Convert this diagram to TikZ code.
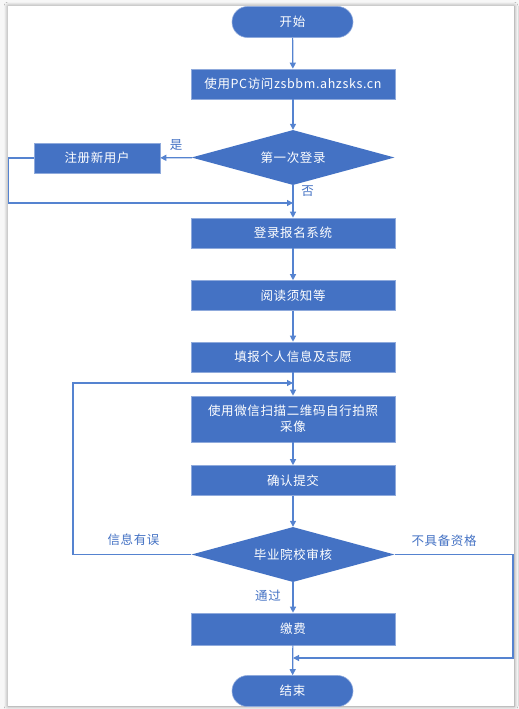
\documentclass[tikz,border=0pt]{standalone}
\usepackage{fontspec}
\newfontfamily\cjk[LetterSpace=5]{Noto Sans CJK SC}
\usetikzlibrary{shapes.geometric,arrows.meta,shadows.blur}
\definecolor{ob}{HTML}{4472C4}
\definecolor{obl}{HTML}{5583D0}
\definecolor{obe}{HTML}{8FAADC}
\begin{document}
\begin{tikzpicture}[x=1pt,y=-1pt,
  every node/.style={font=\cjk\fontsize{12.5}{16}\selectfont},
  proc/.style={draw=obe, line width=0.6pt, fill=ob, text=white, minimum width=204pt, minimum height=30pt, inner sep=0pt, align=center},
  term/.style={draw=obe, line width=0.6pt, fill=ob, text=white, minimum width=121pt, minimum height=31pt, rounded corners=15.5pt, inner sep=0pt},
  dec/.style={diamond, fill=ob, text=white, minimum width=203pt, minimum height=55pt, aspect=3.7, inner sep=0pt},
  lab/.style={text=ob},
  arr/.style={draw=obl, line width=1.2pt, -{Triangle[width=6pt,length=6pt]}}
]
\useasboundingbox (0,0) rectangle (519,709);
\fill[gray!6] (0,0) rectangle (519,709);
\fill[white, blur shadow={shadow blur steps=8, shadow xshift=0pt, shadow yshift=0pt, shadow blur radius=4pt}] (8,6) rectangle (514,706);

\node[term] (start) at (292.5,22) {开始};
\node[proc] (b1) at (293,84) {使用PC访问zsbbm.ahzsks.cn};
\node[dec] (d1) at (293,157.5) {第一次登录};
\node[proc, minimum width=126pt] (reg) at (97,158) {注册新用户};
\node[proc] (b2) at (293,233) {登录报名系统};
\node[proc] (b3) at (293,295.5) {阅读须知等};
\node[proc] (b4) at (293,357) {填报个人信息及志愿};
\node[proc, minimum height=46pt] (b5) at (293,419) {使用微信扫描二维码自行拍照\\采像};
\node[proc] (b6) at (293,480.5) {确认提交};
\node[dec] (d2) at (293,554.5) {毕业院校审核};
\node[proc, minimum height=32pt] (b7) at (293,629) {缴费};
\node[term] (end) at (292.5,691) {结束};

\coordinate (c1) at (8.5,158);
\coordinate (j1) at (293,203);
\coordinate (c2) at (73,554.5);
\coordinate (j2) at (293,383);
\coordinate (c3) at (513,554.5);
\coordinate (j3) at (293,658);

\draw[arr] (start) -- (b1);
\draw[arr] (b1) -- (d1);
\draw[arr] (d1) -- (reg);
\draw[arr] (d1) -- (b2);
\draw[arr] (reg.west) -- (c1) |- (j1);
\draw[arr] (b2) -- (b3);
\draw[arr] (b3) -- (b4);
\draw[arr] (b4) -- (b5);
\draw[arr] (b5) -- (b6);
\draw[arr] (b6) -- (d2);
\draw[arr] (d2) -- (b7);
\draw[arr] (b7) -- (end);
\draw[arr] (d2.west) -- (c2) |- (j2);
\draw[arr] (d2.east) -- (c3) |- (j3);

\node[lab] (l1) at (176,145) {是};
\node[lab] (l2) at (307.5,191) {否};
\node[lab] (l3) at (133.5,540) {信息有误};
\node[lab] (l4) at (444,541) {不具备资格};
\node[lab] (l5) at (268,596) {通过};
\end{tikzpicture}
\end{document}
